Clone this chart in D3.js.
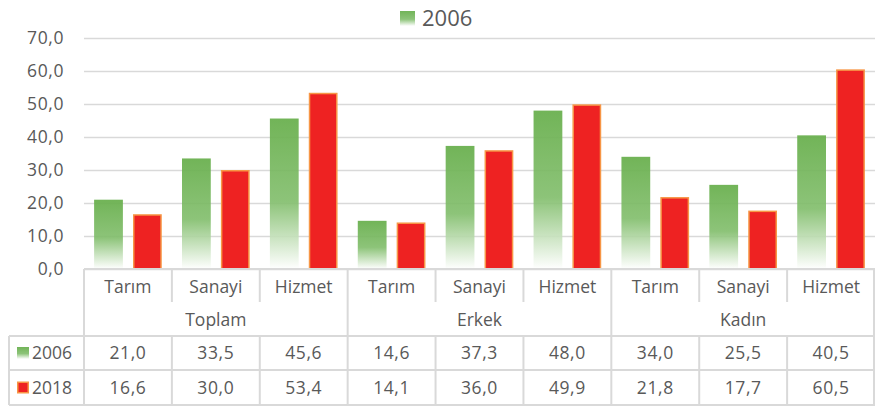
<!DOCTYPE html>
<html lang="tr">
<head>
<meta charset="UTF-8">
<script src="https://d3js.org/d3.v7.min.js"></script>
<style>
  body { margin: 0; background: #fff; }
  svg { font-family: "Open Sans", sans-serif; }
  text { fill: #595959; }
</style>
</head>
<body>
<div id="wrapper"></div>
<script>
const categories = ["Tarım", "Sanayi", "Hizmet", "Tarım", "Sanayi", "Hizmet", "Tarım", "Sanayi", "Hizmet"];
const groups = ["Toplam", "Erkek", "Kadın"];
const seriesNames = ["2006", "2018"];
const values2006 = [21.0, 33.5, 45.6, 14.6, 37.3, 48.0, 34.0, 25.5, 40.5];
const values2018 = [16.6, 30.0, 53.4, 14.1, 36.0, 49.9, 21.8, 17.7, 60.5];
const yTicks = [0, 10, 20, 30, 40, 50, 60, 70];

const width = 875, height = 408;
const margin = { left: 84, right: 0, top: 38 };
const plotBottom = 269;
const rowH = [33, 34, 34, 35]; // category row, group row, 2006 row, 2018 row
const fmt = d => d.toFixed(1).replace(".", ",");
const fs = "17.5px";

const svg = d3.select("#wrapper").append("svg")
  .attr("width", width).attr("height", height);

const defs = svg.append("defs");
const grad = defs.append("linearGradient").attr("id", "greenGrad")
  .attr("x1", 0).attr("y1", 0).attr("x2", 0).attr("y2", 1);
grad.append("stop").attr("offset", "0%").attr("stop-color", "#6ab04f").attr("stop-opacity", 0.95);
grad.append("stop").attr("offset", "55%").attr("stop-color", "#80bd6a").attr("stop-opacity", 0.9);
grad.append("stop").attr("offset", "100%").attr("stop-color", "#ffffff").attr("stop-opacity", 0.9);

const x = d3.scaleBand().domain(d3.range(categories.length))
  .range([margin.left, width - margin.right]);
const xs = d3.scaleBand().domain(seriesNames).range([0, x.bandwidth()]).padding(0.26);
const y = d3.scaleLinear().domain([0, 70]).range([plotBottom, margin.top]);

// gridlines
svg.append("g").selectAll("line").data(yTicks).join("line")
  .attr("x1", margin.left).attr("x2", width)
  .attr("y1", d => Math.round(y(d)) + 0.5).attr("y2", d => Math.round(y(d)) + 0.5)
  .attr("stroke", "#d9d9d9").attr("stroke-width", 1.3);

// y axis labels
svg.append("g").selectAll("text").data(yTicks).join("text")
  .attr("x", 64).attr("y", d => y(d)).attr("dy", "0.35em")
  .attr("text-anchor", "end").style("font-size", fs).style("letter-spacing", "0.6px")
  .text(fmt);

// bars
const bars = svg.append("g");
bars.selectAll("rect.g06").data(values2006).join("rect")
  .attr("class", "g06")
  .attr("x", (d, i) => x(i) + xs("2006"))
  .attr("y", d => y(d))
  .attr("width", xs.bandwidth())
  .attr("height", d => y(0) - y(d))
  .attr("fill", "url(#greenGrad)");
bars.selectAll("rect.r18").data(values2018).join("rect")
  .attr("class", "r18")
  .attr("x", (d, i) => x(i) + xs("2018") + 0.75)
  .attr("y", d => y(d) + 0.75)
  .attr("width", xs.bandwidth() - 1.5)
  .attr("height", d => y(0) - y(d) - 0.75)
  .attr("fill", "#ee2222")
  .attr("stroke", "#f79646").attr("stroke-width", 1.5);

// legend
const legend = svg.append("g").attr("transform", "translate(400,11)");
legend.append("rect").attr("width", 15).attr("height", 15).attr("fill", "url(#greenGrad)");
legend.append("text").attr("x", 22).attr("y", 7).attr("dy", "0.36em")
  .style("font-size", "22px").text("2006");

// data table
const table = svg.append("g");
const lineColor = "#d9d9d9";
const r0 = plotBottom, r1 = r0 + rowH[0], r2 = r1 + rowH[1], r3 = r2 + rowH[2], r4 = r3 + rowH[3];
const tableLeft = 9;

function hline(x1, x2, yy) {
  table.append("line").attr("x1", x1).attr("x2", x2).attr("y1", yy).attr("y2", yy)
    .attr("stroke", lineColor).attr("stroke-width", 2);
}
function vline(xx, y1, y2) {
  table.append("line").attr("x1", xx).attr("x2", xx).attr("y1", y1).attr("y2", y2)
    .attr("stroke", lineColor).attr("stroke-width", 2);
}

hline(margin.left, width, r0);
hline(tableLeft, width, r2);
hline(tableLeft, width, r3);
hline(tableLeft, width, r4);
vline(tableLeft, r2, r4);
vline(margin.left, r0, r4);
vline(width - 1, r0, r4);
categories.forEach((c, i) => {
  if (i === 0) return;
  if (i % 3 === 0) vline(x(i), r0, r4);
  else { vline(x(i), r0, r1); vline(x(i), r2, r4); }
});

table.selectAll("text.cat").data(categories).join("text")
  .attr("class", "cat")
  .attr("x", (d, i) => x(i) + x.bandwidth() / 2).attr("y", (r0 + r1) / 2 + 1)
  .attr("dy", "0.35em").attr("text-anchor", "middle").style("font-size", fs)
  .text(d => d);

table.selectAll("text.grp").data(groups).join("text")
  .attr("class", "grp")
  .attr("x", (d, i) => x(i * 3) + x.bandwidth() * 1.5).attr("y", (r1 + r2) / 2 + 1)
  .attr("dy", "0.35em").attr("text-anchor", "middle").style("font-size", fs)
  .text(d => d);

[[values2006, r2, r3], [values2018, r3, r4]].forEach(([vals, ya, yb], k) => {
  table.append("g").selectAll("text").data(vals).join("text")
    .attr("x", (d, i) => x(i) + x.bandwidth() / 2).attr("y", (ya + yb) / 2)
    .attr("dy", "0.35em").attr("text-anchor", "middle").style("font-size", fs)
    .style("letter-spacing", "0.6px")
    .text(fmt);
  const key = table.append("g").attr("transform", `translate(17,${(ya + yb) / 2 - 6})`);
  if (k === 0) {
    key.append("rect").attr("width", 12).attr("height", 12).attr("fill", "url(#greenGrad)");
  } else {
    key.append("rect").attr("x", 0.75).attr("y", 0.75).attr("width", 10.5).attr("height", 10.5)
      .attr("fill", "#ee2222").attr("stroke", "#f79646").attr("stroke-width", 1.5);
  }
  table.append("text").attr("x", 32).attr("y", (ya + yb) / 2).attr("dy", "0.35em")
    .style("font-size", fs).text(seriesNames[k]);
});
</script>
</body>
</html>
